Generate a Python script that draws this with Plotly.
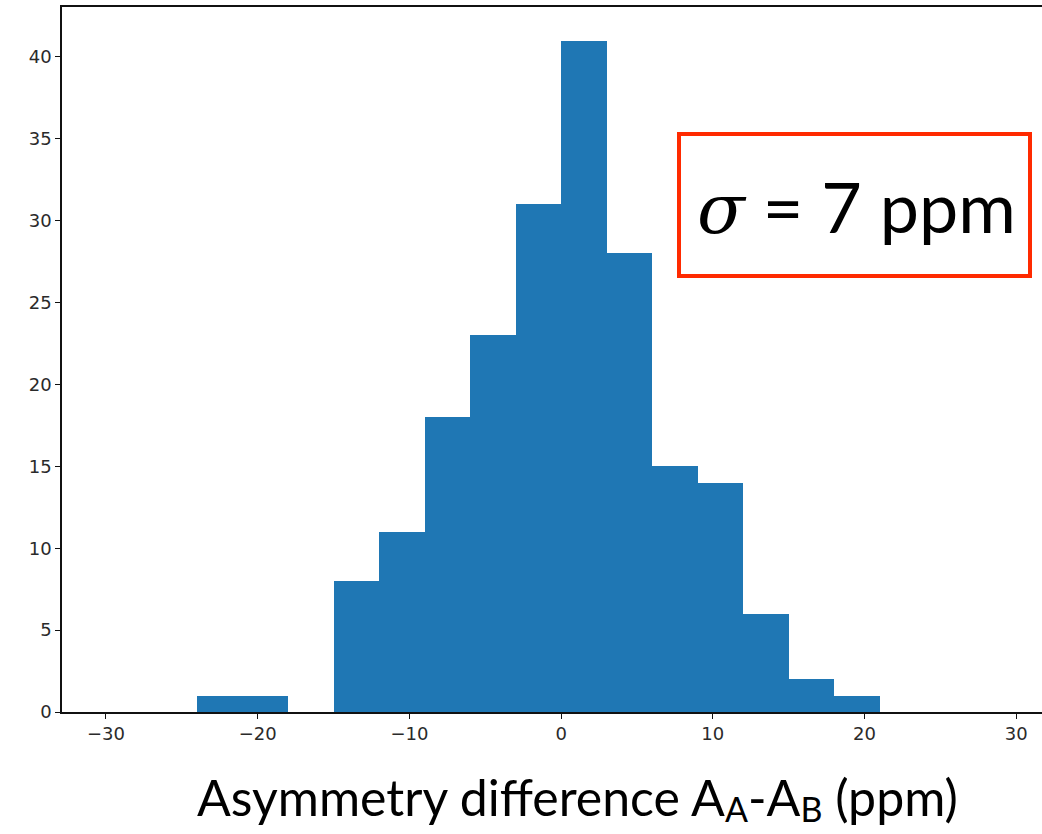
import plotly.graph_objects as go

# Histogram of asymmetry differences: 3 ppm bins
bin_left = [-24, -21, -18, -15, -12, -9, -6, -3, 0, 3, 6, 9, 12, 15, 18]
counts = [1, 1, 0, 8, 11, 18, 23, 31, 41, 28, 15, 14, 6, 2, 1]
bin_width = 3

x_ticks = [-30, -20, -10, 0, 10, 20, 30]
x_tick_text = ["\u221230", "\u221220", "\u221210", "0", "10", "20", "30"]
y_ticks = [0, 5, 10, 15, 20, 25, 30, 35, 40]

centers = [b + bin_width / 2 for b in bin_left]

fig = go.Figure(
    go.Bar(
        x=centers,
        y=counts,
        width=[bin_width] * len(counts),
        marker=dict(color="#1f77b4", line=dict(width=0)),
        hoverinfo="x+y",
    )
)

W, H = 1042, 834
left, right, top, bottom = 62, 0, 7, 122
tick_font = dict(family="DejaVu Sans", size=18, color="#2a2a2a")

fig.update_layout(
    width=W,
    height=H,
    margin=dict(l=left, r=right, t=top, b=bottom, pad=0),
    paper_bgcolor="white",
    plot_bgcolor="white",
    showlegend=False,
    bargap=0,
    font=tick_font,
    xaxis=dict(
        range=[-32.9, 31.7],
        tickmode="array",
        tickvals=x_ticks,
        ticktext=x_tick_text,
        ticks="outside",
        ticklen=5,
        tickwidth=1.2,
        tickcolor="#111",
        showline=True,
        linecolor="#111",
        linewidth=1.5,
        mirror=True,
        showgrid=False,
        zeroline=False,
        tickfont=tick_font,
    ),
    yaxis=dict(
        range=[0, 43.05],
        tickmode="array",
        tickvals=y_ticks,
        ticks="outside",
        ticklen=5,
        tickwidth=1.2,
        tickcolor="#111",
        showline=True,
        linecolor="#111",
        linewidth=1.5,
        showgrid=False,
        zeroline=False,
        tickfont=tick_font,
    ),
)

plot_w = W - left - right
plot_h = H - top - bottom


def px_x(px):
    return (px - left) / plot_w


def px_y(py):
    return (H - bottom - py) / plot_h


# Red box around the width of the distribution
fig.add_shape(
    type="rect",
    xref="paper",
    yref="paper",
    x0=px_x(679),
    x1=px_x(1030),
    y0=px_y(276),
    y1=px_y(134),
    line=dict(color="#ff2a00", width=4),
    fillcolor="rgba(0,0,0,0)",
)

fig.add_annotation(
    xref="paper",
    yref="paper",
    x=px_x(856),
    y=px_y(207),
    text='<span style="font-family:DejaVu Serif"><i>σ</i></span> = 7 ppm',
    showarrow=False,
    font=dict(family="Lato", size=70, color="black"),
    xanchor="center",
    yanchor="middle",
)

# Axis title with small, slightly lowered subscripts
sub_style = "font-size:34px;baseline-shift:-6px"
fig.add_annotation(
    xref="paper",
    yref="paper",
    x=px_x(577),
    y=px_y(798),
    text=(
        'Asymmetry difference A<span style="%s">A</span>-A<span style="%s">B</span> (ppm)'
        % (sub_style, sub_style)
    ),
    showarrow=False,
    font=dict(family="Lato", size=50, color="black"),
    xanchor="center",
    yanchor="middle",
)

fig.write_html("out.html")
